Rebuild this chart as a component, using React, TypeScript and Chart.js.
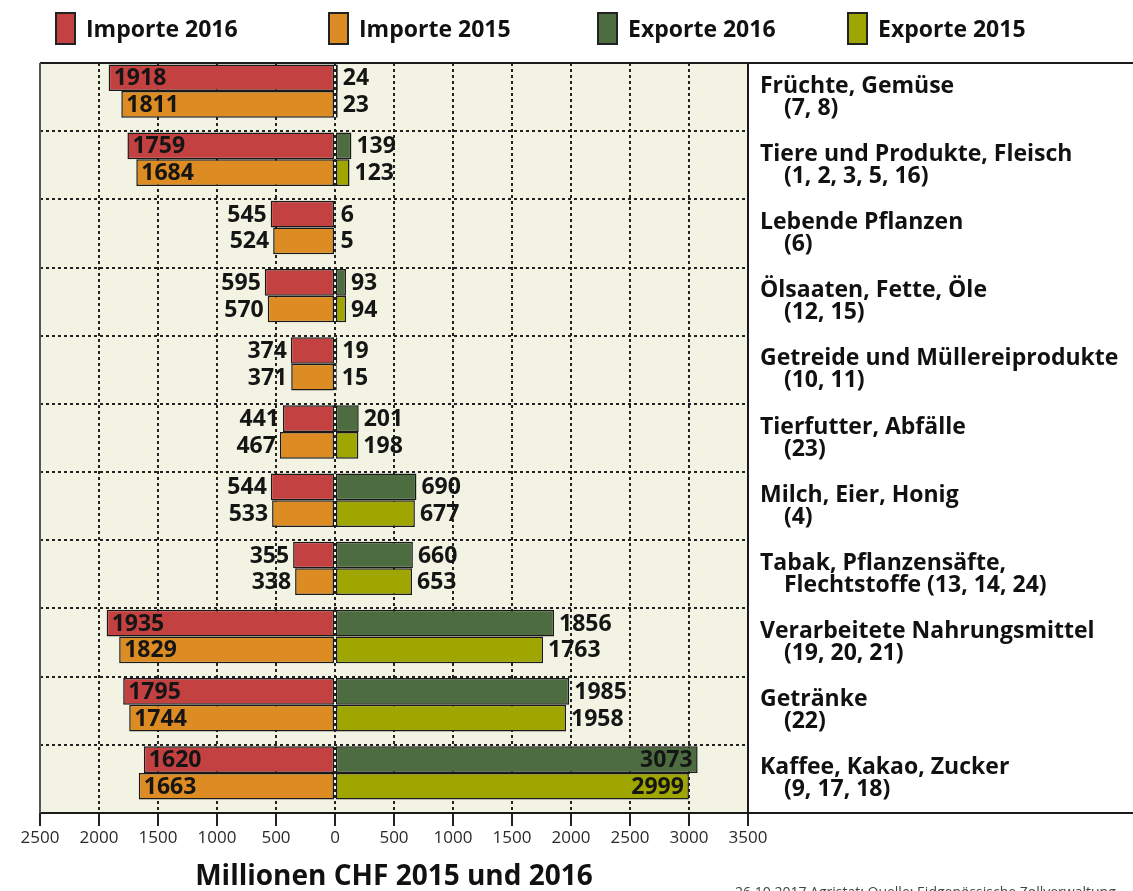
import React, { useEffect, useRef } from 'react';
import { Chart, registerables } from 'chart.js';

Chart.register(...registerables);

// ---- data ----
const categoryNames = [
  'Früchte, Gemüse',
  'Tiere und Produkte, Fleisch',
  'Lebende Pflanzen',
  'Ölsaaten, Fette, Öle',
  'Getreide und Müllereiprodukte',
  'Tierfutter, Abfälle',
  'Milch, Eier, Honig',
  'Tabak, Pflanzensäfte,',
  'Verarbeitete Nahrungsmittel',
  'Getränke',
  'Kaffee, Kakao, Zucker',
];
const categoryCodes = [
  '(7, 8)',
  '(1, 2, 3, 5, 16)',
  '(6)',
  '(12, 15)',
  '(10, 11)',
  '(23)',
  '(4)',
  'Flechtstoffe (13, 14, 24)',
  '(19, 20, 21)',
  '(22)',
  '(9, 17, 18)',
];
const imports2016 = [1918, 1759, 545, 595, 374, 441, 544, 355, 1935, 1795, 1620];
const imports2015 = [1811, 1684, 524, 570, 371, 467, 533, 338, 1829, 1744, 1663];
const exports2016 = [24, 139, 6, 93, 19, 201, 690, 660, 1856, 1985, 3073];
const exports2015 = [23, 123, 5, 94, 15, 198, 677, 653, 1763, 1958, 2999];

const seriesNames = ['Importe 2016', 'Importe 2015', 'Exporte 2016', 'Exporte 2015'];
const seriesColors = ['#c44142', '#dc8c22', '#4d6d41', '#a0a600'];
const xMin = -2500;
const xMax = 3500;
const xStep = 500;
const axisTitle = 'Millionen CHF 2015 und 2016';
const footerText = '26.10.2017 Agristat; Quelle: Eidgenössische Zollverwaltung';

// ---- layout constants ----
const BAR_SHIFT = 0.088; // bars sit slightly above the band centre
const INDENT = '    ';
const FONT = '"Open Sans", Lato, "DejaVu Sans", sans-serif';

const legendLefts = [55, 328, 597, 847];

export default function App() {
  const ref = useRef<HTMLCanvasElement>(null);

  useEffect(() => {
    const canvas = ref.current!;
    const n = categoryNames.length;
    const labels = categoryNames.map((name, i) => [name, INDENT + categoryCodes[i]]);

    const seriesValues = [imports2016, imports2015, exports2016, exports2015];
    const isImport = [true, true, false, false];
    const stacks = ['2016', '2015', '2016', '2015'];

    const datasets = seriesValues.map((vals, d) => ({
      label: seriesNames[d],
      data: vals.map((v, i) => ({ x: isImport[d] ? -v : v, y: i })),
      backgroundColor: seriesColors[d],
      borderColor: '#1a1a1a',
      borderWidth: 1.5,
      borderSkipped: false as const,
      stack: stacks[d],
      categoryPercentage: 0.783,
      barPercentage: 1,
    }));

    const plugin = {
      id: 'custom',
      beforeDraw(chart: any) {
        const { ctx, chartArea: a } = chart;
        ctx.save();
        ctx.fillStyle = '#f3f3e3';
        ctx.fillRect(a.left, a.top, a.right - a.left, a.bottom - a.top);
        ctx.restore();
      },
      beforeDatasetsDraw(chart: any) {
        const { ctx, chartArea: a } = chart;
        const y = chart.scales.y;
        ctx.save();
        ctx.strokeStyle = '#222';
        ctx.lineWidth = 2;
        ctx.setLineDash([3, 3]);
        for (let i = 0; i < n - 1; i++) {
          const py = Math.round(y.getPixelForValue(i + 0.5 + BAR_SHIFT));
          ctx.beginPath();
          ctx.moveTo(a.left, py);
          ctx.lineTo(a.right, py);
          ctx.stroke();
        }
        ctx.restore();
      },
      afterDatasetsDraw(chart: any) {
        const { ctx } = chart;
        ctx.save();
        ctx.font = `bold 23px ${FONT}`;
        ctx.fillStyle = '#151515';
        ctx.textBaseline = 'middle';
        seriesValues.forEach((vals, d) => {
          const meta = chart.getDatasetMeta(d);
          meta.data.forEach((el: any, i: number) => {
            const v = vals[i];
            const txt = String(v);
            const yy = el.y + 1;
            if (isImport[d]) {
              if (v >= 1000) {
                ctx.textAlign = 'left';
                ctx.fillText(txt, el.x + 5, yy);
              } else {
                ctx.textAlign = 'right';
                ctx.fillText(txt, el.x - 4, yy);
              }
            } else {
              if (v >= 2500) {
                ctx.textAlign = 'right';
                ctx.fillText(txt, el.x - 5, yy);
              } else {
                ctx.textAlign = 'left';
                ctx.fillText(txt, el.x + 5, yy);
              }
            }
          });
        });
        ctx.restore();
      },
      afterDraw(chart: any) {
        const { ctx, chartArea: a, width, height } = chart;
        ctx.save();
        ctx.strokeStyle = '#1a1a1a';
        ctx.lineWidth = 2;
        ctx.beginPath();
        ctx.moveTo(a.left, a.top);
        ctx.lineTo(width, a.top);
        ctx.moveTo(a.left, a.bottom);
        ctx.lineTo(width, a.bottom);
        ctx.moveTo(a.right, a.top);
        ctx.lineTo(a.right, a.bottom);
        ctx.stroke();
        ctx.strokeStyle = '#555';
        ctx.beginPath();
        ctx.moveTo(a.left, a.top);
        ctx.lineTo(a.left, a.bottom);
        ctx.stroke();
        ctx.font = `14px ${FONT}`;
        ctx.fillStyle = '#444';
        ctx.textAlign = 'left';
        ctx.textBaseline = 'alphabetic';
        ctx.fillText(footerText, 735, height + 6);
        ctx.restore();
      },
    };

    const chart = new Chart(canvas, {
      type: 'bar',
      data: { datasets: datasets as any },
      options: {
        indexAxis: 'y',
        animation: false,
        responsive: false,
        maintainAspectRatio: false,
        layout: { padding: { top: 63, left: 40, right: 0, bottom: 0 } },
        plugins: {
          legend: { display: false },
          tooltip: { enabled: false },
        },
        scales: {
          x: {
            type: 'linear',
            stacked: true,
            min: xMin,
            max: xMax,
            afterFit: (s: any) => {
              s.height = 78;
            },
            ticks: {
              stepSize: xStep,
              callback: (v: any) => String(Math.abs(Number(v))),
              font: { family: FONT, size: 17 },
              color: '#2a2a2a',
              padding: 2,
              maxRotation: 0,
            },
            grid: {
              color: '#222',
              lineWidth: 2,
              tickLength: 13,
              tickColor: '#222',
              tickWidth: 2,
              tickBorderDash: [],
            } as any,
            border: { display: false, dash: [3, 3] },
            title: {
              display: true,
              text: axisTitle,
              font: { family: FONT, size: 28, weight: 'bold' },
              color: '#111',
              padding: { top: 0, bottom: -3 },
            },
          },
          y: {
            type: 'linear',
            position: 'right',
            reverse: true,
            offset: false,
            min: -0.5 + BAR_SHIFT,
            max: n - 0.5 + BAR_SHIFT,
            afterFit: (s: any) => {
              s.width = 385;
            },
            afterBuildTicks: (s: any) => {
              s.ticks = categoryNames.map((_, i) => ({ value: i + BAR_SHIFT }));
            },
            ticks: {
              autoSkip: false,
              callback: (_v: any, idx: number) => labels[idx],
              font: { family: FONT, size: 23, weight: 'bold', lineHeight: '22px' },
              color: '#111',
              padding: 12,
              crossAlign: 'near',
            },
            grid: { display: false, drawTicks: false },
            border: { display: false },
          },
        },
      } as any,
      plugins: [plugin],
    });
    return () => chart.destroy();
  }, []);

  return (
    <div
      style={{
        position: 'absolute',
        left: 0,
        top: 0,
        width: 1133,
        height: 891,
        overflow: 'hidden',
        background: '#fff',
      }}
    >
      <canvas ref={ref} width={1133} height={891} style={{ display: 'block' }} />
      {seriesNames.map((name, i) => (
        <div
          key={name}
          style={{
            position: 'absolute',
            left: legendLefts[i],
            top: 11,
            height: 34,
            display: 'flex',
            alignItems: 'center',
            fontFamily: FONT,
            fontWeight: 'bold',
            fontSize: 23,
            color: '#111',
            whiteSpace: 'nowrap',
          }}
        >
          <span
            style={{
              display: 'inline-block',
              width: 21,
              height: 33,
              boxSizing: 'border-box',
              border: '2px solid #222',
              background: seriesColors[i],
              marginRight: 10,
            }}
          />
          <span>{name}</span>
        </div>
      ))}
    </div>
  );
}
